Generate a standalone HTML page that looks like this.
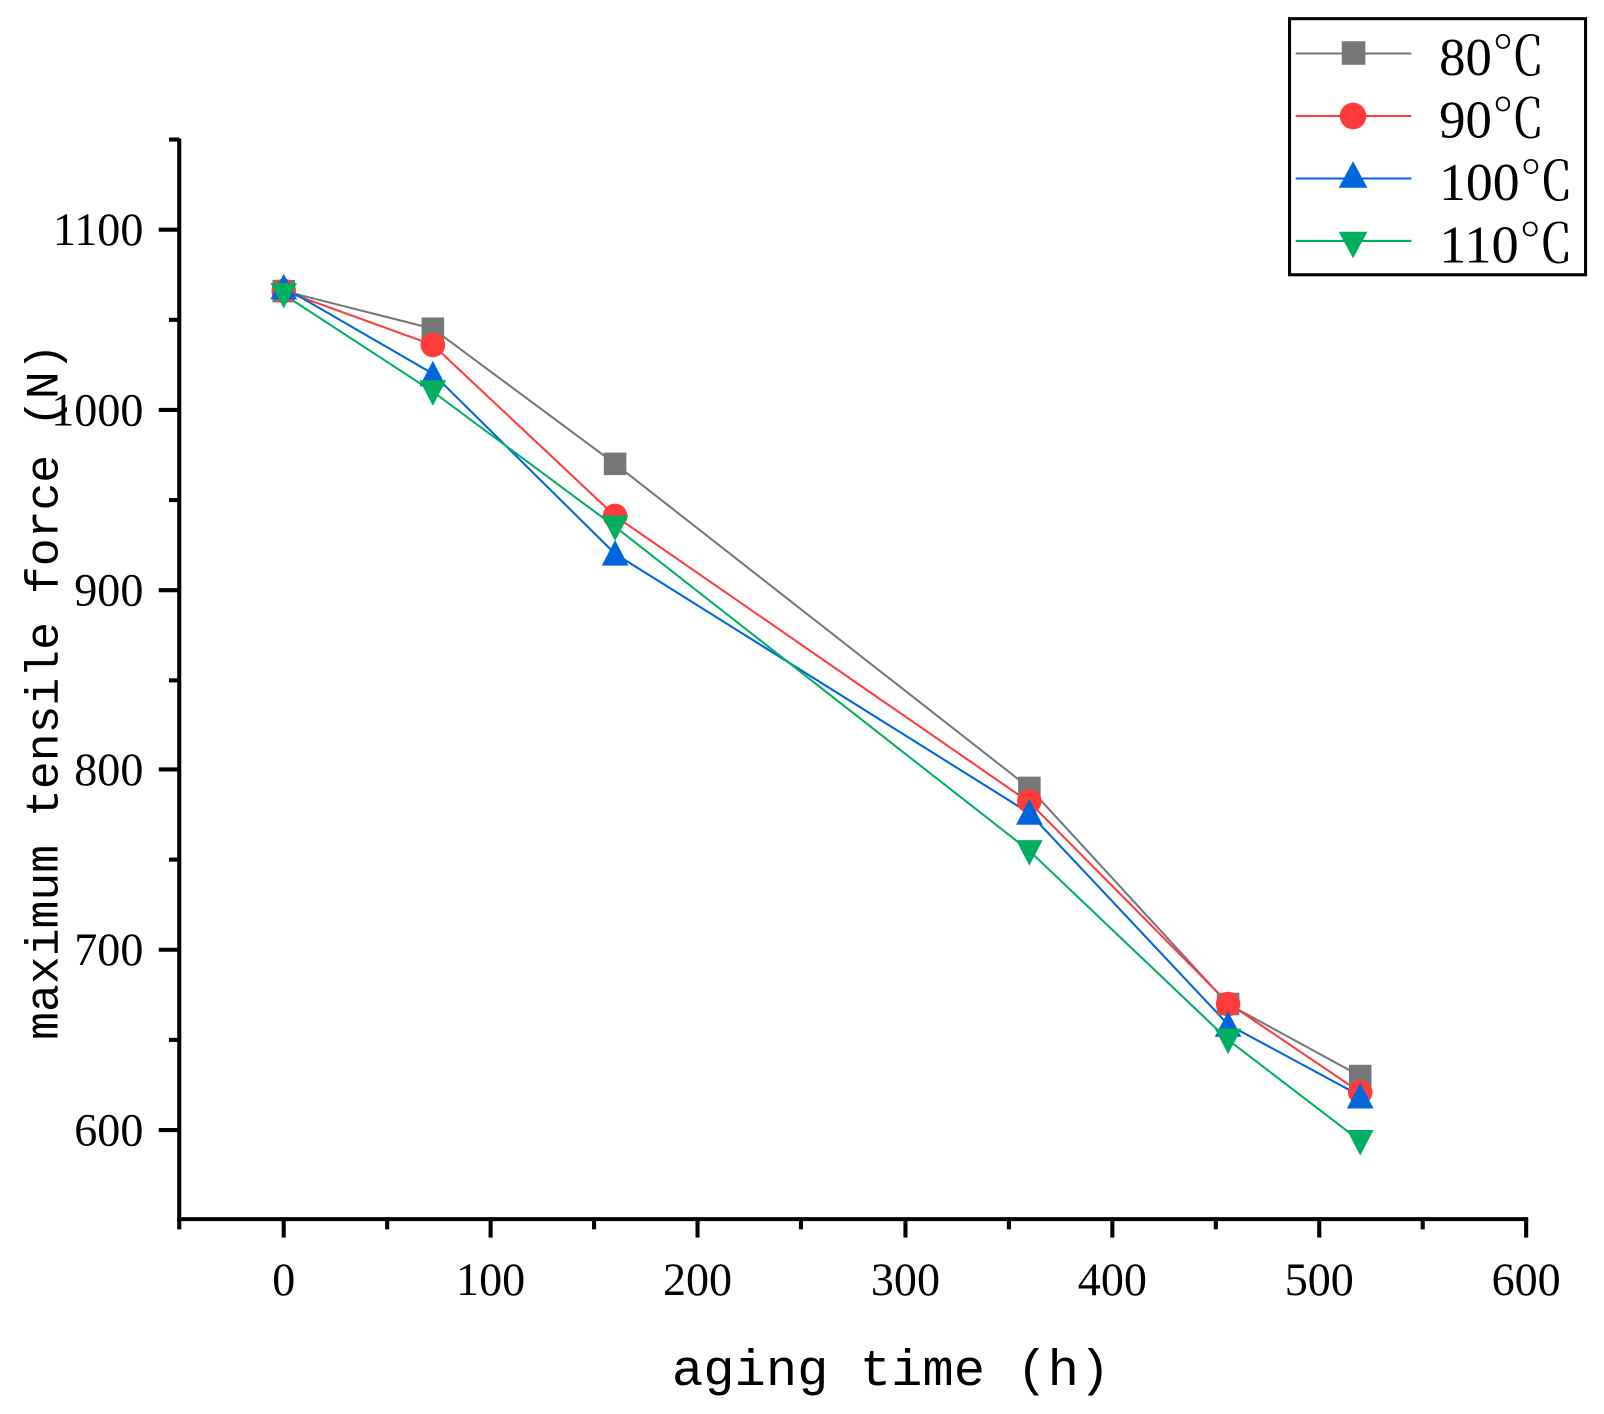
<!DOCTYPE html>
<html><head><meta charset="utf-8"><style>html,body{margin:0;padding:0;background:#fff}svg{display:block}</style></head>
<body>
<svg width="1604" height="1414" viewBox="0 0 1566 1380" xmlns="http://www.w3.org/2000/svg">
<rect width="1566" height="1380" fill="#fff"/>
<g stroke="#000" stroke-width="4" fill="none">
<line x1="175" y1="135" x2="175" y2="1192"/>
<line x1="173" y1="1190" x2="1492" y2="1190"/>
</g>
<g stroke="#000" stroke-width="4">
<line x1="277" y1="1190" x2="277" y2="1208"/><line x1="479" y1="1190" x2="479" y2="1208"/>
<line x1="681" y1="1190" x2="681" y2="1208"/><line x1="884" y1="1190" x2="884" y2="1208"/>
<line x1="1086" y1="1190" x2="1086" y2="1208"/><line x1="1288" y1="1190" x2="1288" y2="1208"/>
<line x1="1490" y1="1190" x2="1490" y2="1208"/>
<line x1="175" y1="1190" x2="175" y2="1200"/><line x1="378" y1="1190" x2="378" y2="1200"/>
<line x1="580" y1="1190" x2="580" y2="1200"/><line x1="782" y1="1190" x2="782" y2="1200"/>
<line x1="985" y1="1190" x2="985" y2="1200"/><line x1="1187" y1="1190" x2="1187" y2="1200"/>
<line x1="1389" y1="1190" x2="1389" y2="1200"/>
<line x1="155" y1="224" x2="175" y2="224"/><line x1="155" y1="400" x2="175" y2="400"/>
<line x1="155" y1="576" x2="175" y2="576"/><line x1="155" y1="751" x2="175" y2="751"/>
<line x1="155" y1="927" x2="175" y2="927"/><line x1="155" y1="1103" x2="175" y2="1103"/>
<line x1="165" y1="136" x2="175" y2="136"/><line x1="165" y1="312" x2="175" y2="312"/>
<line x1="165" y1="488" x2="175" y2="488"/><line x1="165" y1="664" x2="175" y2="664"/>
<line x1="165" y1="839" x2="175" y2="839"/><line x1="165" y1="1015" x2="175" y2="1015"/>
</g>
<g font-family="Liberation Serif, serif" font-size="45" fill="#000">
<g text-anchor="middle">
<text x="277" y="1264">0</text><text x="479" y="1264">100</text><text x="681" y="1264">200</text>
<text x="884" y="1264">300</text><text x="1086" y="1264">400</text><text x="1288" y="1264">500</text>
<text x="1490" y="1264">600</text>
</g>
<g text-anchor="end">
<text x="140" y="239">1100</text><text x="140" y="415">1000</text><text x="140" y="591">900</text>
<text x="140" y="766">800</text><text x="140" y="942">700</text><text x="140" y="1118">600</text>
</g>
</g>
<text x="870" y="1352" text-anchor="middle" font-family="Liberation Mono, monospace" font-size="50" textLength="428" lengthAdjust="spacingAndGlyphs">aging time (h)</text>
<text transform="translate(56,675) rotate(-90)" text-anchor="middle" font-family="Liberation Mono, monospace" font-size="45" textLength="680" lengthAdjust="spacingAndGlyphs">maximum tensile force (N)</text>

<polyline fill="none" stroke="#777" stroke-width="2" points="277,283.8 422.6,320.7 600.5,452.6 1005,769 1199,980 1328,1050.3"/>
<polyline fill="none" stroke="#ff3b3b" stroke-width="2" points="277,283.8 422.6,336.5 600.5,503.5 1005,783 1199,979 1328,1066.1"/>
<polyline fill="none" stroke="#0066dd" stroke-width="2" points="277,280.3 422.6,364.6 600.5,540.4 1005,793.6 1199,1000 1328,1069.6"/>
<polyline fill="none" stroke="#00b060" stroke-width="2" points="277,287.3 422.6,382.2 600.5,514 1005,830.5 1199,1015 1328,1113.6"/>

<g fill="#777">
<rect x="266" y="273" width="22" height="22"/><rect x="411.6" y="309.7" width="22" height="22"/>
<rect x="589.5" y="441.6" width="22" height="22"/><rect x="994" y="758" width="22" height="22"/>
<rect x="1188" y="969" width="22" height="22"/><rect x="1317" y="1039.3" width="22" height="22"/>
</g>
<g fill="#ff3b3b">
<circle cx="277" cy="283.8" r="12"/><circle cx="422.6" cy="336.5" r="12"/><circle cx="600.5" cy="503.5" r="12"/>
<circle cx="1005" cy="782" r="12"/><circle cx="1199" cy="980" r="12"/><circle cx="1328" cy="1066.1" r="12"/>
</g>
<g fill="#0066dd">
<polygon points="277,267 264,292 290,292"/><polygon points="422.6,352 409.6,377 435.6,377"/>
<polygon points="600.5,527 587.5,552 613.5,552"/><polygon points="1005,780 992,805 1018,805"/>
<polygon points="1199,987 1186,1012 1212,1012"/><polygon points="1328,1057 1315,1082 1341,1082"/>
</g>
<g fill="#00b060">
<polygon points="264,276 290,276 277,301"/><polygon points="409.6,371 435.6,371 422.6,396"/>
<polygon points="587.5,503 613.5,503 600.5,528"/><polygon points="992,820 1018,820 1005,845"/>
<polygon points="1186,1004 1212,1004 1199,1029"/><polygon points="1315,1103 1341,1103 1328,1128"/>
</g>

<rect x="1259" y="18" width="289" height="250" fill="#fff" stroke="#000" stroke-width="3"/>
<line x1="1265" y1="52" x2="1378" y2="52" stroke="#777" stroke-width="2"/>
<rect x="1310" y="40" width="23" height="23" fill="#777"/>
<line x1="1265" y1="113" x2="1378" y2="113" stroke="#ff3b3b" stroke-width="2"/>
<circle cx="1321" cy="113" r="13" fill="#ff3b3b"/>
<line x1="1265" y1="174" x2="1378" y2="174" stroke="#0066dd" stroke-width="2"/>
<polygon points="1321,157 1307,183 1335,183" fill="#0066dd"/>
<line x1="1265" y1="235" x2="1378" y2="235" stroke="#00b060" stroke-width="2"/>
<polygon points="1307,226 1335,226 1321,252" fill="#00b060"/>
<g font-family="Liberation Serif, 'Noto Serif CJK SC', serif" font-size="52" fill="#000">
<text x="1405" y="73" textLength="103" lengthAdjust="spacingAndGlyphs">80℃</text>
<text x="1405" y="134" textLength="103" lengthAdjust="spacingAndGlyphs">90℃</text>
<text x="1405" y="195" textLength="131" lengthAdjust="spacingAndGlyphs">100℃</text>
<text x="1405" y="256" textLength="131" lengthAdjust="spacingAndGlyphs">110℃</text>
</g>
</svg>
</body></html>
